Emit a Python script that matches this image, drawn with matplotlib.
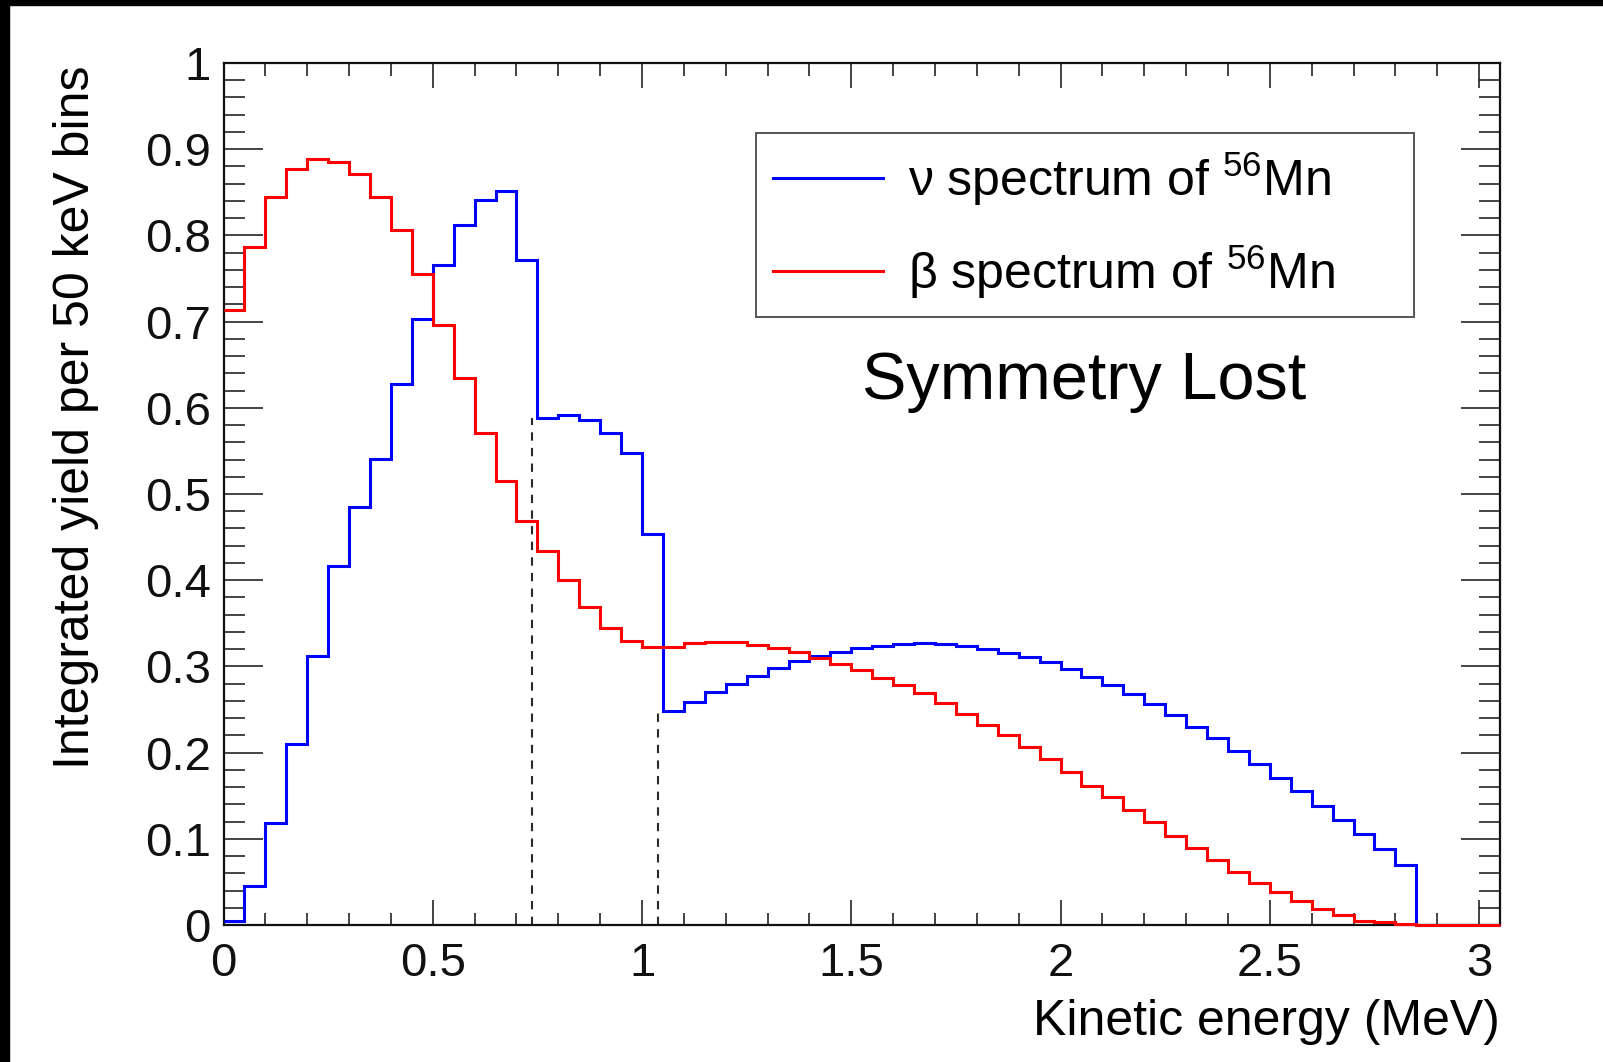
import numpy as np
import matplotlib
matplotlib.use("Agg")
import matplotlib.pyplot as plt
from matplotlib.ticker import MultipleLocator, FuncFormatter
from matplotlib.patches import Rectangle

plt.rcParams["font.family"] = ["Liberation Sans", "DejaVu Sans"]
plt.rcParams["mathtext.fontset"] = "custom"
plt.rcParams["mathtext.rm"] = "Liberation Sans"
plt.rcParams["mathtext.it"] = "Liberation Sans:italic"

# 50 keV bins starting at 0 MeV
BIN_WIDTH = 0.05

nu_yield = [0.005, 0.045, 0.118, 0.210, 0.312, 0.416, 0.485, 0.541, 0.628, 0.703,
            0.766, 0.812, 0.841, 0.851, 0.772, 0.588, 0.592, 0.586, 0.571, 0.547,
            0.454, 0.248, 0.259, 0.270, 0.280, 0.289, 0.298, 0.306, 0.312, 0.317,
            0.321, 0.324, 0.326, 0.327, 0.326, 0.324, 0.320, 0.316, 0.311, 0.305,
            0.297, 0.288, 0.279, 0.268, 0.256, 0.244, 0.230, 0.217, 0.202, 0.187,
            0.171, 0.155, 0.138, 0.122, 0.105, 0.088, 0.070, 0.0, 0.0, 0.0, 0.0]

beta_yield = [0.714, 0.787, 0.844, 0.877, 0.889, 0.885, 0.871, 0.844, 0.806, 0.755,
              0.696, 0.634, 0.571, 0.515, 0.469, 0.434, 0.400, 0.369, 0.345, 0.329,
              0.322, 0.323, 0.327, 0.328, 0.328, 0.325, 0.321, 0.317, 0.310, 0.303,
              0.296, 0.287, 0.279, 0.269, 0.257, 0.245, 0.232, 0.220, 0.206, 0.192,
              0.177, 0.161, 0.148, 0.133, 0.119, 0.103, 0.089, 0.075, 0.062, 0.049,
              0.038, 0.028, 0.018, 0.012, 0.005, 0.003, 0.001, 0.0, 0.0, 0.0, 0.0]

# dashed markers at the two steps of the neutrino spectrum
marker_x = [0.737, 1.038]
marker_top = [0.588, 0.248]

labels = [r"ν spectrum of $^{56}$Mn", r"β spectrum of $^{56}$Mn"]

edges = np.arange(len(nu_yield) + 1) * BIN_WIDTH

W, H = 1603, 1062
fig = plt.figure(figsize=(W / 100, H / 100), dpi=100)
ax = fig.add_axes([223.5 / W, 137 / H, (1500 - 223.5) / W, 862 / H])

ax.stairs(nu_yield, edges, baseline=None, color="#0000ff", lw=2.2, label=labels[0],
          zorder=3, clip_on=False)
ax.stairs(beta_yield, edges, baseline=None, color="#ff0000", lw=2.2, label=labels[1],
          zorder=3.1, clip_on=False)
ax.vlines(marker_x, 0, marker_top, colors="#2a2a2a", lw=1.5,
          linestyles=(0, (4, 3.5)), zorder=2)

ax.set_xlim(0, 3.05)
ax.set_ylim(0, 1)

fs_tick = 34
fs_title = 36
ax.xaxis.set_major_locator(MultipleLocator(0.5))
ax.xaxis.set_minor_locator(MultipleLocator(0.1))
ax.yaxis.set_major_locator(MultipleLocator(0.1))
ax.yaxis.set_minor_locator(MultipleLocator(0.02))
fmt = FuncFormatter(lambda v, p: "%g" % round(v, 2))
ax.xaxis.set_major_formatter(fmt)
ax.yaxis.set_major_formatter(fmt)

ax.tick_params(which="both", direction="in", top=True, right=True, width=1.1,
               colors="#111111", labelsize=fs_tick)
ax.tick_params(axis="x", which="major", length=18, pad=12)
ax.tick_params(axis="x", which="minor", length=9)
ax.tick_params(axis="y", which="major", length=28, pad=9)
ax.tick_params(axis="y", which="minor", length=15)
for s in ax.spines.values():
    s.set_linewidth(1.6)
    s.set_color("#111111")
    s.set_zorder(2.5)

ax.set_xlabel("Kinetic energy (MeV)", fontsize=fs_title, loc="right")
ax.xaxis.set_label_coords(1.0, -0.112)
ax.xaxis.label.set_va("center")
ax.set_ylabel("Integrated yield per 50 keV bins", fontsize=fs_title, loc="top")
ax.yaxis.set_label_coords(-0.0975, 0.997)

leg_top = 1 - 133 / H
leg = ax.legend(loc="upper left", bbox_to_anchor=(756 / W, leg_top - 0.01, 658 / W, 0.01),
                bbox_transform=fig.transFigure, mode="expand", borderaxespad=0,
                fontsize=fs_title, handlelength=2.2, handletextpad=0.5,
                borderpad=0.33, labelspacing=0.70, fancybox=False, framealpha=1)
leg.get_frame().set_edgecolor("#555555")
leg.get_frame().set_linewidth(1.4)

ax.text(0.6745, 0.610, "Symmetry Lost", transform=ax.transAxes, fontsize=48,
        ha="center", va="baseline")

# black frame strips of the original screenshot
fig.patches.append(Rectangle((0, 1 - 5 / H), 1, 5 / H, transform=fig.transFigure,
                             color="black", zorder=10))
fig.patches.append(Rectangle((0, 0), 9 / W, 1, transform=fig.transFigure,
                             color="black", zorder=10))

fig.savefig("out.png", dpi=100)
